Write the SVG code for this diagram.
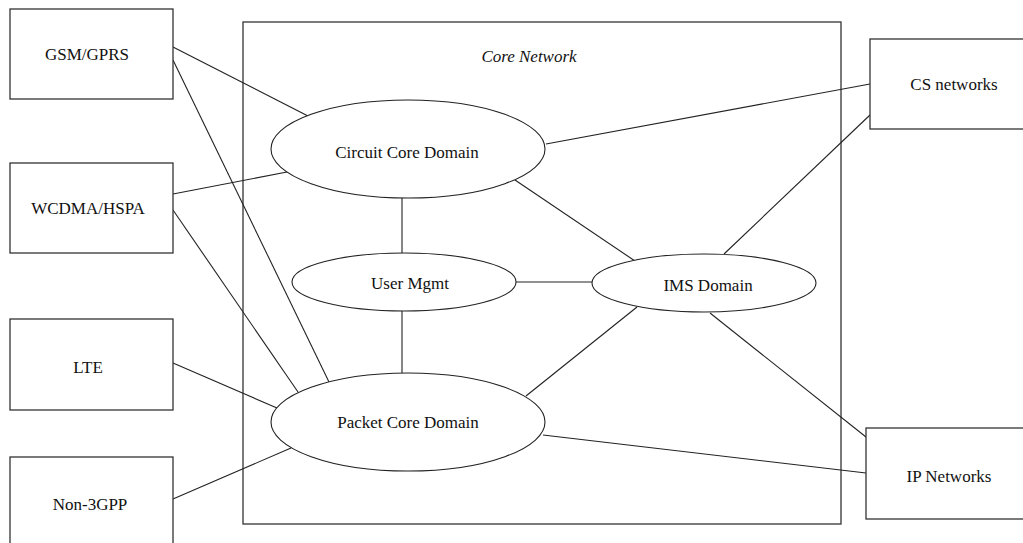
<svg xmlns="http://www.w3.org/2000/svg" width="1023" height="543" viewBox="0 0 1023 543" font-family="'Liberation Serif', 'DejaVu Serif', serif">
<style>
.box{fill:#fff;stroke:#333;stroke-width:1.3}
.ell{fill:#fff;stroke:#222;stroke-width:1.1}
.ln{stroke:#222;stroke-width:1.1;fill:none}
text{font-family:'Liberation Serif','DejaVu Serif',serif;font-size:17px;fill:#111;text-anchor:middle}
.it{font-style:italic}
</style>
<rect width="1023" height="543" fill="#fff"/>
<g id="core-network">
<rect class="box" x="243" y="22" width="598" height="502"/>
<text class="it" x="529" y="62">Core Network</text>
</g>
<g id="connectors">
<line class="ln" x1="173" y1="47" x2="308" y2="116"/>
<line class="ln" x1="173" y1="60" x2="329" y2="382"/>
<line class="ln" x1="173" y1="194" x2="287" y2="172"/>
<line class="ln" x1="173" y1="210" x2="298" y2="392"/>
<line class="ln" x1="173" y1="363" x2="277" y2="408"/>
<line class="ln" x1="173" y1="499" x2="291" y2="448"/>
<line class="ln" x1="546" y1="144" x2="870" y2="84"/>
<line class="ln" x1="515" y1="180" x2="635" y2="261"/>
<line class="ln" x1="724" y1="254" x2="870" y2="115"/>
<line class="ln" x1="402" y1="198" x2="402" y2="253"/>
<line class="ln" x1="516" y1="282" x2="592" y2="282"/>
<line class="ln" x1="402" y1="311" x2="402" y2="373"/>
<line class="ln" x1="637" y1="307" x2="526" y2="396"/>
<line class="ln" x1="710" y1="313" x2="866" y2="437"/>
<line class="ln" x1="543" y1="435" x2="866" y2="473"/>
</g>
<g id="gsm-gprs"><rect class="box" x="10" y="9" width="163" height="90"/><text x="87" y="60">GSM/GPRS</text></g>
<g id="wcdma-hspa"><rect class="box" x="10" y="163" width="163" height="90"/><text x="88" y="214">WCDMA/HSPA</text></g>
<g id="lte"><rect class="box" x="10" y="319" width="163" height="91"/><text x="88" y="373">LTE</text></g>
<g id="non-3gpp"><rect class="box" x="10" y="457" width="163" height="92"/><text x="90" y="510">Non-3GPP</text></g>
<g id="cs-networks"><rect class="box" x="870" y="39" width="165" height="90"/><text x="954" y="90">CS networks</text></g>
<g id="ip-networks"><rect class="box" x="866" y="428" width="165" height="91"/><text x="949" y="482">IP Networks</text></g>
<g id="circuit-core"><ellipse class="ell" cx="408" cy="149" rx="137" ry="49"/><text x="407" y="158">Circuit Core Domain</text></g>
<g id="user-mgmt"><ellipse class="ell" cx="404" cy="282" rx="112" ry="29"/><text x="410" y="289">User Mgmt</text></g>
<g id="ims-domain"><ellipse class="ell" cx="704" cy="283" rx="112" ry="29"/><text x="708" y="291">IMS Domain</text></g>
<g id="packet-core"><ellipse class="ell" cx="408" cy="422" rx="137" ry="49"/><text x="408" y="428">Packet Core Domain</text></g>
</svg>
